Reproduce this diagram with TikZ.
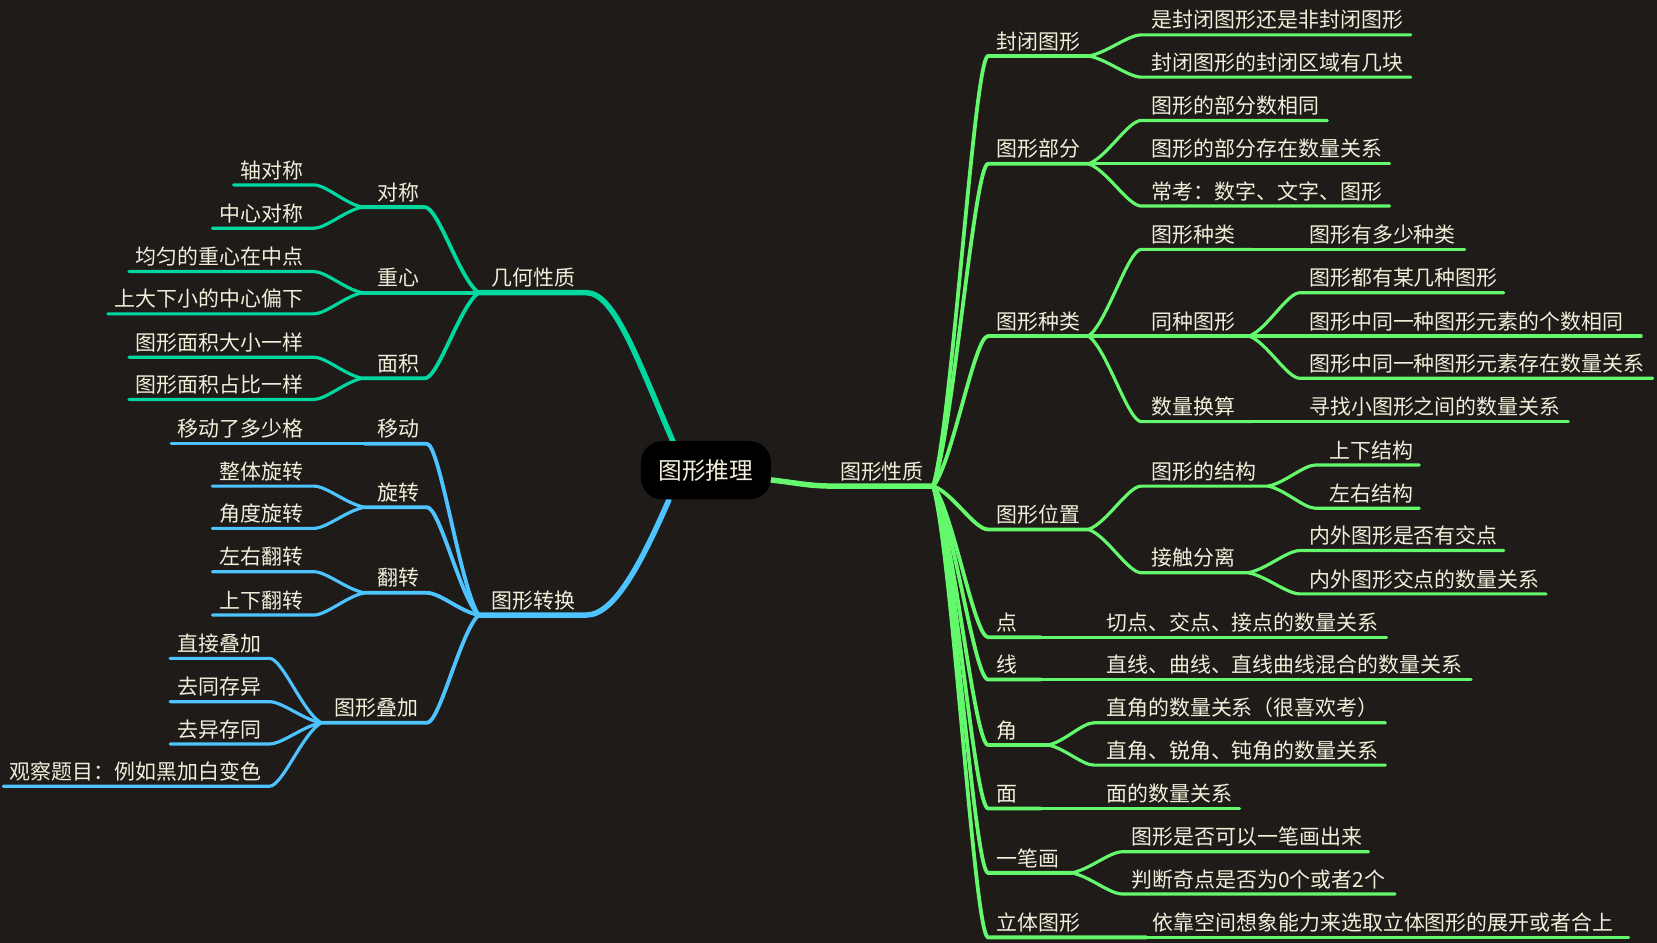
\documentclass[tikz,border=0pt]{standalone}
\usepackage{fontspec}
\newfontfamily\cjk{Noto Sans CJK SC}
\usetikzlibrary{calc}
\definecolor{bg}{RGB}{31,27,24}
\definecolor{gr}{RGB}{100,248,108}
\definecolor{tl}{RGB}{0,216,160}
\definecolor{bl}{RGB}{77,196,255}
\definecolor{tx}{RGB}{242,238,218}
\tikzset{
 lbl/.style={inner sep=0pt, outer sep=0pt, text=tx, font=\cjk\fontsize{9.9}{12}\selectfont},
 mainline/.style={line width=2.6pt, line cap=round},
 subline/.style={line width=1.8pt, line cap=round},
 leafline/.style={line width=1.5pt, line cap=round},
}
\newcommand\mtopic[7]{%
 \coordinate (#1-s) at (#2,#4);
 \coordinate (#1-e) at (#3,#4);
 \node[lbl,anchor=#6] (#1) at (#5,#4-6.5) {#7};}
\newcommand\mlink[4]{%
 \draw[#1] let \p1=(#2), \p2=(#3) in (\p1) .. controls ({\x1+0.35*(\x2-\x1)},{\y1+0.15*(\y2-\y1)}) and ({\x2-0.25*(\x2-\x1)},\y2) .. (\p2) -- (#4);}
\begin{document}
\begin{tikzpicture}[x=0.5pt,y=-0.5pt]
\fill[bg] (0,0) rectangle (1568,892);
\useasboundingbox (0,0) rectangle (1568,892);
% ---------- right side topics
\mtopic{gs}{790}{883}{460}{795}{base west}{图形性质}
\mtopic{fb}{935}{1030}{53}{943}{base west}{封闭图形}
\mtopic{bf}{935}{1030}{155}{943}{base west}{图形部分}
\mtopic{zl}{935}{1030}{318}{943}{base west}{图形种类}
\mtopic{wz}{935}{1030}{501}{943}{base west}{图形位置}
\mtopic{dn}{935}{985}{603}{943}{base west}{点}
\mtopic{xn}{935}{985}{643}{943}{base west}{线}
\mtopic{jo}{935}{992}{705}{943}{base west}{角}
\mtopic{mn}{935}{985}{765}{943}{base west}{面}
\mtopic{yb}{935}{1014}{826}{943}{base west}{一笔画}
\mtopic{lt}{935}{1085}{887}{943}{base west}{立体图形}
\mtopic{fba}{1080}{1335}{33}{1090}{base west}{是封闭图形还是非封闭图形}
\mtopic{fbb}{1080}{1335}{73}{1090}{base west}{封闭图形的封闭区域有几块}
\mtopic{bfa}{1080}{1256}{114}{1090}{base west}{图形的部分数相同}
\mtopic{bfb}{1080}{1315}{155}{1090}{base west}{图形的部分存在数量关系}
\mtopic{bfc}{1080}{1315}{195}{1090}{base west}{常考：数字、文字、图形}
\mtopic{zla}{1080}{1185}{236}{1090}{base west}{图形种类}
\mtopic{zlb}{1080}{1182}{318}{1090}{base west}{同种图形}
\mtopic{zlc}{1080}{1185}{399}{1090}{base west}{数量换算}
\mtopic{zlaa}{1185}{1386}{236}{1239}{base west}{图形有多少种类}
\mtopic{zlba}{1230}{1423}{277}{1239}{base west}{图形都有某几种图形}
\mtopic{zlbb}{1230}{1553}{318}{1239}{base west}{图形中同一种图形元素的个数相同}
\mtopic{zlbc}{1230}{1564}{358}{1239}{base west}{图形中同一种图形元素存在数量关系}
\mtopic{zlca}{1185}{1484}{399}{1239}{base west}{寻找小图形之间的数量关系}
\mtopic{wza}{1080}{1200}{460}{1090}{base west}{图形的结构}
\mtopic{wzb}{1080}{1181}{542}{1090}{base west}{接触分离}
\mtopic{wzaa}{1245}{1343}{440}{1258}{base west}{上下结构}
\mtopic{wzab}{1245}{1343}{481}{1258}{base west}{左右结构}
\mtopic{wzba}{1230}{1423}{521}{1239}{base west}{内外图形是否有交点}
\mtopic{wzbb}{1230}{1463}{562}{1239}{base west}{内外图形交点的数量关系}
\mtopic{dna}{985}{1312}{603}{1047}{base west}{切点、交点、接点的数量关系}
\mtopic{xna}{985}{1392}{643}{1047}{base west}{直线、曲线、直线曲线混合的数量关系}
\mtopic{joa}{1035}{1311}{684}{1047}{base west}{直角的数量关系（很喜欢考）}
\mtopic{job}{1035}{1311}{724}{1047}{base west}{直角、锐角、钝角的数量关系}
\mtopic{mna}{985}{1173}{765}{1047}{base west}{面的数量关系}
\mtopic{yba}{1062}{1295}{806}{1071}{base west}{图形是否可以一笔画出来}
\mtopic{ybb}{1062}{1320}{846}{1071}{base west}{判断奇点是否为0个或者2个}
\mtopic{lta}{1085}{1541}{887}{1091}{base west}{依靠空间想象能力来选取立体图形的展开或者合上}
% ---------- left side topics
\mtopic{jh}{453}{555}{277}{465}{base west}{几何性质}
\mtopic{zh}{453}{555}{582}{465}{base west}{图形转换}
\mtopic{dc}{343}{402}{196}{357}{base west}{对称}
\mtopic{zx}{343}{402}{277}{357}{base west}{重心}
\mtopic{mj}{343}{402}{358}{357}{base west}{面积}
\mtopic{dca}{221}{297}{175}{287}{base east}{轴对称}
\mtopic{dcb}{201}{297}{216}{287}{base east}{中心对称}
\mtopic{zxa}{122}{297}{257}{287}{base east}{均匀的重心在中点}
\mtopic{zxb}{102}{297}{297}{287}{base east}{上大下小的中心偏下}
\mtopic{mja}{122}{297}{338}{287}{base east}{图形面积大小一样}
\mtopic{mjb}{122}{297}{378}{287}{base east}{图形面积占比一样}
\mtopic{yd}{345}{404}{420}{357}{base west}{移动}
\mtopic{xz}{345}{404}{480}{357}{base west}{旋转}
\mtopic{fz}{345}{404}{561}{357}{base west}{翻转}
\mtopic{dj}{304}{404}{684}{317}{base west}{图形叠加}
\mtopic{yda}{162}{345}{420}{287}{base east}{移动了多少格}
\mtopic{xza}{201}{297}{460}{287}{base east}{整体旋转}
\mtopic{xzb}{201}{297}{500}{287}{base east}{角度旋转}
\mtopic{fza}{201}{297}{541}{287}{base east}{左右翻转}
\mtopic{fzb}{201}{297}{582}{287}{base east}{上下翻转}
\mtopic{dja}{161}{255}{623}{247}{base east}{直接叠加}
\mtopic{djb}{161}{255}{664}{247}{base east}{去同存异}
\mtopic{djc}{161}{255}{704}{247}{base east}{去异存同}
\mtopic{djd}{3}{255}{744}{247}{base east}{观察题目：例如黑加白变色}
% ---------- root connectors
\coordinate (rR) at (728,454);
\coordinate (rT) at (637,418);
\coordinate (rB) at (633,473);
\draw[mainline,gr] (rR) .. controls (755,457) and (765,460) .. (gs-s) -- (gs-e);
\draw[mainline,tl] (jh-s) -- (jh-e) .. controls (582,277) and (605,345) .. (rT);
\draw[mainline,bl] (zh-s) -- (zh-e) .. controls (582,582) and (608,530) .. (rB);
% ---------- right links
\foreach \c in {fb,bf,zl,wz,dn,xn,jo,mn,yb,lt}{\mlink{subline,gr}{gs-e}{\c-s}{\c-e}}
\mlink{leafline,gr}{fb-e}{fba-s}{fba-e}
\mlink{leafline,gr}{fb-e}{fbb-s}{fbb-e}
\mlink{leafline,gr}{bf-e}{bfa-s}{bfa-e}
\mlink{leafline,gr}{bf-e}{bfb-s}{bfb-e}
\mlink{leafline,gr}{bf-e}{bfc-s}{bfc-e}
\mlink{leafline,gr}{zl-e}{zla-s}{zla-e}
\mlink{leafline,gr}{zl-e}{zlb-s}{zlb-e}
\mlink{leafline,gr}{zl-e}{zlc-s}{zlc-e}
\mlink{leafline,gr}{zla-e}{zlaa-s}{zlaa-e}
\mlink{leafline,gr}{zlb-e}{zlba-s}{zlba-e}
\mlink{leafline,gr}{zlb-e}{zlbb-s}{zlbb-e}
\mlink{leafline,gr}{zlb-e}{zlbc-s}{zlbc-e}
\mlink{leafline,gr}{zlc-e}{zlca-s}{zlca-e}
\mlink{leafline,gr}{wz-e}{wza-s}{wza-e}
\mlink{leafline,gr}{wz-e}{wzb-s}{wzb-e}
\mlink{leafline,gr}{wza-e}{wzaa-s}{wzaa-e}
\mlink{leafline,gr}{wza-e}{wzab-s}{wzab-e}
\mlink{leafline,gr}{wzb-e}{wzba-s}{wzba-e}
\mlink{leafline,gr}{wzb-e}{wzbb-s}{wzbb-e}
\mlink{leafline,gr}{dn-e}{dna-s}{dna-e}
\mlink{leafline,gr}{xn-e}{xna-s}{xna-e}
\mlink{leafline,gr}{jo-e}{joa-s}{joa-e}
\mlink{leafline,gr}{jo-e}{job-s}{job-e}
\mlink{leafline,gr}{mn-e}{mna-s}{mna-e}
\mlink{leafline,gr}{yb-e}{yba-s}{yba-e}
\mlink{leafline,gr}{yb-e}{ybb-s}{ybb-e}
\mlink{leafline,gr}{lt-e}{lta-s}{lta-e}
% ---------- left links
\foreach \c in {dc,zx,mj}{\mlink{subline,tl}{jh-s}{\c-e}{\c-s}}
\mlink{leafline,tl}{dc-s}{dca-e}{dca-s}
\mlink{leafline,tl}{dc-s}{dcb-e}{dcb-s}
\mlink{leafline,tl}{zx-s}{zxa-e}{zxa-s}
\mlink{leafline,tl}{zx-s}{zxb-e}{zxb-s}
\mlink{leafline,tl}{mj-s}{mja-e}{mja-s}
\mlink{leafline,tl}{mj-s}{mjb-e}{mjb-s}
\foreach \c in {yd,xz,fz,dj}{\mlink{subline,bl}{zh-s}{\c-e}{\c-s}}
\mlink{leafline,bl}{yd-s}{yda-e}{yda-s}
\mlink{leafline,bl}{xz-s}{xza-e}{xza-s}
\mlink{leafline,bl}{xz-s}{xzb-e}{xzb-s}
\mlink{leafline,bl}{fz-s}{fza-e}{fza-s}
\mlink{leafline,bl}{fz-s}{fzb-e}{fzb-s}
\mlink{leafline,bl}{dj-s}{dja-e}{dja-s}
\mlink{leafline,bl}{dj-s}{djb-e}{djb-s}
\mlink{leafline,bl}{dj-s}{djc-e}{djc-s}
\mlink{leafline,bl}{dj-s}{djd-e}{djd-s}
% ---------- central topic
\node[fill=black, rounded corners=10pt, minimum width=61.5pt, minimum height=27.5pt, inner sep=0pt, text=tx, font=\cjk\fontsize{11.2}{13}\selectfont] (root) at (668,445) {图形推理};
\end{tikzpicture}
\end{document}
